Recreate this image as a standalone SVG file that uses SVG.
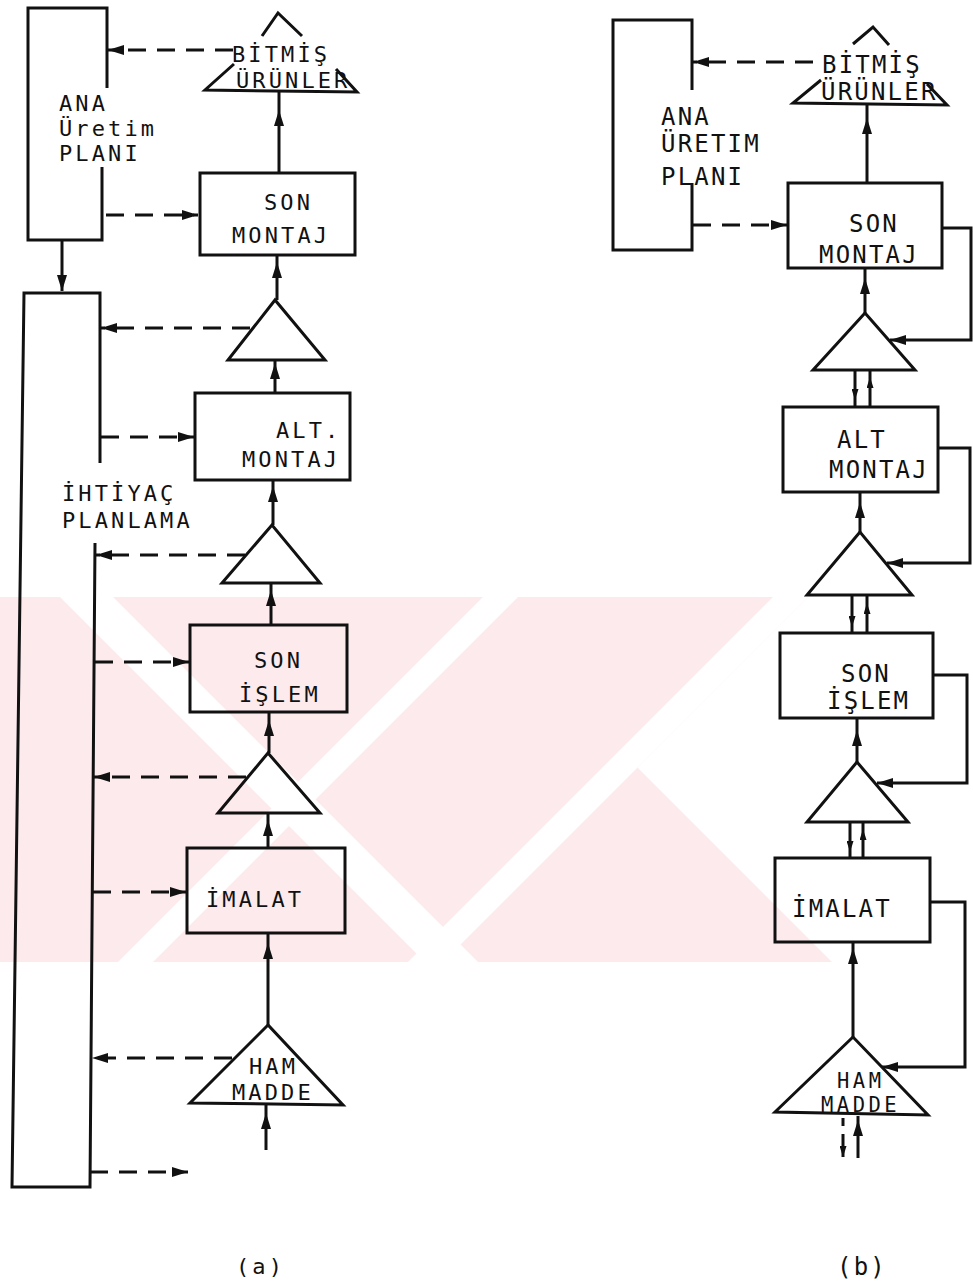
<svg xmlns="http://www.w3.org/2000/svg" width="973" height="1286" viewBox="0 0 973 1286">
<defs>
<style>
.ln{stroke:#111;stroke-width:3;fill:none;stroke-linejoin:miter}
.dash{stroke:#111;stroke-width:3;fill:none;stroke-dasharray:18 11}
.box{fill:none;stroke:#111;stroke-width:3}
.ta{font-family:"DejaVu Sans Mono","Liberation Mono",monospace;font-size:22px;letter-spacing:3.1px;fill:#111}
.tb{font-family:"DejaVu Sans Mono","Liberation Mono",monospace;font-size:24px;letter-spacing:2.2px;fill:#111}
.tbs{font-family:"DejaVu Sans Mono","Liberation Mono",monospace;font-size:20.5px;letter-spacing:3.5px;fill:#111}
.wmw{fill:#fff}
</style>
<marker id="ah" viewBox="0 0 16 10" refX="16" refY="5" markerWidth="16" markerHeight="10" markerUnits="userSpaceOnUse" orient="auto"><path d="M0,0 L16,5 L0,10 z" fill="#111"/></marker>
<marker id="ahs" viewBox="0 0 11 7" refX="11" refY="3.5" markerWidth="11" markerHeight="7" markerUnits="userSpaceOnUse" orient="auto"><path d="M0,0 L11,3.5 L0,7 z" fill="#111"/></marker>
<clipPath id="wmclip"><rect x="0" y="597" width="973" height="365"/></clipPath>
</defs>
<rect width="973" height="1286" fill="#fff"/>
<g id="watermark" clip-path="url(#wmclip)">
<rect x="0" y="597" width="973" height="365" fill="#fdeaed"/>
<polygon class="wmw" points="60,597 113,597 478,962 425,962"/>
<polygon class="wmw" points="483,597 518,597 153,962 118,962"/>
<polygon class="wmw" points="773,597 808,597 443,962 408,962"/>
<polygon class="wmw" points="808,597 973,597 973,962 832,962 637.5,767.5"/>
</g>
<g id="connectors">
<!-- panel a -->
<path class="dash" d="M233,50 L108,50" marker-end="url(#ah)"/>
<path class="dash" d="M106,215 L198,215" marker-end="url(#ah)"/>
<path class="ln" d="M62,240 L62,291" marker-end="url(#ah)"/>
<path class="ln" d="M279,173 L279,110 L279,92" marker-mid="url(#ah)"/>
<path class="ln" d="M277,300 L277,262 L277,255" marker-mid="url(#ah)"/>
<path class="ln" d="M275,393 L275,363 L275,360" marker-mid="url(#ah)"/>
<path class="ln" d="M273,525 L273,486 L273,480" marker-mid="url(#ah)"/>
<path class="ln" d="M271,625 L271,590 L271,583" marker-mid="url(#ah)"/>
<path class="ln" d="M269,753 L269,720 L269,712" marker-mid="url(#ah)"/>
<path class="ln" d="M268,848 L268,820 L268,813" marker-mid="url(#ah)"/>
<path class="ln" d="M268,1025 L268,943 L268,933" marker-mid="url(#ah)"/>
<path class="ln" d="M266,1150 L266,1113 L266,1105" marker-mid="url(#ah)"/>
<path class="dash" d="M250,328 L101,328" marker-end="url(#ah)"/>
<path class="dash" d="M101,437 L194,437" marker-end="url(#ah)"/>
<path class="dash" d="M245,555 L96,555" marker-end="url(#ah)"/>
<path class="dash" d="M95,662 L189,662" marker-end="url(#ah)"/>
<path class="dash" d="M246,777 L94,777" marker-end="url(#ah)"/>
<path class="dash" d="M93,892 L186,892" marker-end="url(#ah)"/>
<path class="dash" d="M232,1058 L92,1058" marker-end="url(#ah)"/>
<path class="dash" d="M90,1172 L188,1172" marker-end="url(#ah)"/>
<!-- panel b -->
<path class="dash" d="M813,62 L693,62" marker-end="url(#ah)"/>
<path class="dash" d="M693,225 L787,225" marker-end="url(#ah)"/>
<path class="ln" d="M867,183 L867,118 L867,104" marker-mid="url(#ah)"/>
<path class="ln" d="M865,313 L865,278 L865,268" marker-mid="url(#ah)"/>
<path class="ln" d="M860,532 L860,502 L860,492" marker-mid="url(#ah)"/>
<path class="ln" d="M857,762 L857,730 L857,718" marker-mid="url(#ah)"/>
<path class="ln" d="M853,1037 L853,948 L853,942" marker-mid="url(#ah)"/>
<path class="ln" d="M855,370 L855,400 L855,407" marker-mid="url(#ahs)"/>
<path class="ln" d="M870,407 L870,377 L870,370" marker-mid="url(#ahs)"/>
<path class="ln" d="M852,595 L852,627 L852,633" marker-mid="url(#ahs)"/>
<path class="ln" d="M867,633 L867,603 L867,595" marker-mid="url(#ahs)"/>
<path class="ln" d="M850,822 L850,852 L850,858" marker-mid="url(#ahs)"/>
<path class="ln" d="M863,858 L863,829 L863,822" marker-mid="url(#ahs)"/>
<path class="ln" d="M942,228 L971,228 L971,340 L890,340" marker-end="url(#ah)"/>
<path class="ln" d="M938,448 L970,448 L970,563 L887,563" marker-end="url(#ah)"/>
<path class="ln" d="M933,675 L967,675 L967,783 L877,783" marker-end="url(#ah)"/>
<path class="ln" d="M930,902 L965,902 L965,1067 L882,1067" marker-end="url(#ah)"/>
<path class="ln" d="M843,1118 L843,1126"/>
<path class="ln" d="M843,1134 L843,1157" marker-end="url(#ahs)"/>
<path class="ln" d="M858,1158 L858,1120 L858,1116" marker-mid="url(#ah)"/>
</g>
<!-- panel a nodes -->
<g id="a-ana-uretim-plani">
<path class="ln" d="M107,88 L107,8 L28,8 L28,240 L102,240 L102,167"/>
<text class="ta" x="59" y="111">ANA</text>
<text class="ta" x="59" y="136">Üretim</text>
<text class="ta" x="59" y="161">PLANI</text>
</g>
<g id="a-ihtiyac-planlama">
<path class="ln" d="M100,463 L100,293 L24,293 L12,1187 L90,1187 L95,543"/>
<text class="ta" x="62" y="501">İHTİYAÇ</text>
<text class="ta" x="62" y="528">PLANLAMA</text>
</g>
<g id="a-bitmis-urunler">
<path class="ln" d="M262,36 L278,13 L302,36"/>
<path class="ln" d="M234,64 L205,90 L357,92 L336,69"/>
<text class="ta" x="232" y="62">BİTMİŞ</text>
<text class="ta" x="236" y="88">ÜRÜNLER</text>
</g>
<g id="a-son-montaj">
<rect class="box" x="200" y="173" width="155" height="82"/>
<text class="ta" x="264" y="210">SON</text>
<text class="ta" x="232" y="243">MONTAJ</text>
</g>
<g id="a-stok-1"><polygon class="box" points="275,300 228,360 325,360"/></g>
<g id="a-alt-montaj">
<rect class="box" x="195" y="393" width="155" height="87"/>
<text class="ta" x="276" y="438">ALT.</text>
<text class="ta" x="242" y="467">MONTAJ</text>
</g>
<g id="a-stok-2"><polygon class="box" points="272,525 222,583 320,583"/></g>
<g id="a-son-islem">
<rect class="box" x="190" y="625" width="157" height="87"/>
<text class="ta" x="254" y="668">SON</text>
<text class="ta" x="239" y="702">İŞLEM</text>
</g>
<g id="a-stok-3"><polygon class="box" points="268,753 218,813 320,813"/></g>
<g id="a-imalat">
<rect class="box" x="187" y="848" width="158" height="85"/>
<text class="ta" x="206" y="907">İMALAT</text>
</g>
<g id="a-ham-madde">
<polygon class="box" points="268,1025 190,1103 343,1105"/>
<text class="ta" x="249" y="1074">HAM</text>
<text class="ta" x="232" y="1100">MADDE</text>
</g>
<text class="ta" x="236" y="1274">(a)</text>
<!-- panel b nodes -->
<g id="b-ana-uretim-plani">
<path class="ln" d="M692,90 L692,20 L613,20 L613,250 L692,250 L692,183"/>
<text class="tb" x="661" y="125">ANA</text>
<text class="tb" x="661" y="152">ÜRETIM</text>
<text class="tb" x="661" y="185">PLANI</text>
</g>
<g id="b-bitmis-urunler">
<path class="ln" d="M853,44 L873,27 L889,45"/>
<path class="ln" d="M821,80 L793,103 L947,105 L927,84"/>
<text class="tb" x="822" y="73">BİTMİŞ</text>
<text class="tb" x="821" y="100">ÜRÜNLER</text>
</g>
<g id="b-son-montaj">
<rect class="box" x="788" y="183" width="154" height="85"/>
<text class="tb" x="849" y="232">SON</text>
<text class="tb" x="819" y="263">MONTAJ</text>
</g>
<g id="b-stok-1"><polygon class="box" points="865,313 813,370 915,370"/></g>
<g id="b-alt-montaj">
<rect class="box" x="783" y="407" width="155" height="85"/>
<text class="tb" x="837" y="448">ALT</text>
<text class="tb" x="829" y="478">MONTAJ</text>
</g>
<g id="b-stok-2"><polygon class="box" points="860,532 807,595 912,595"/></g>
<g id="b-son-islem">
<rect class="box" x="780" y="633" width="153" height="85"/>
<text class="tb" x="841" y="682">SON</text>
<text class="tb" x="827" y="709">İŞLEM</text>
</g>
<g id="b-stok-3"><polygon class="box" points="857,762 807,822 908,822"/></g>
<g id="b-imalat">
<rect class="box" x="775" y="858" width="155" height="84"/>
<text class="tb" x="792" y="917">İMALAT</text>
</g>
<g id="b-ham-madde">
<polygon class="box" points="853,1037 775,1112 928,1115"/>
<text class="tbs" x="837" y="1088">HAM</text>
<text class="tbs" x="821" y="1112">MADDE</text>
</g>
<text class="tb" x="837" y="1275">(b)</text>
</svg>
